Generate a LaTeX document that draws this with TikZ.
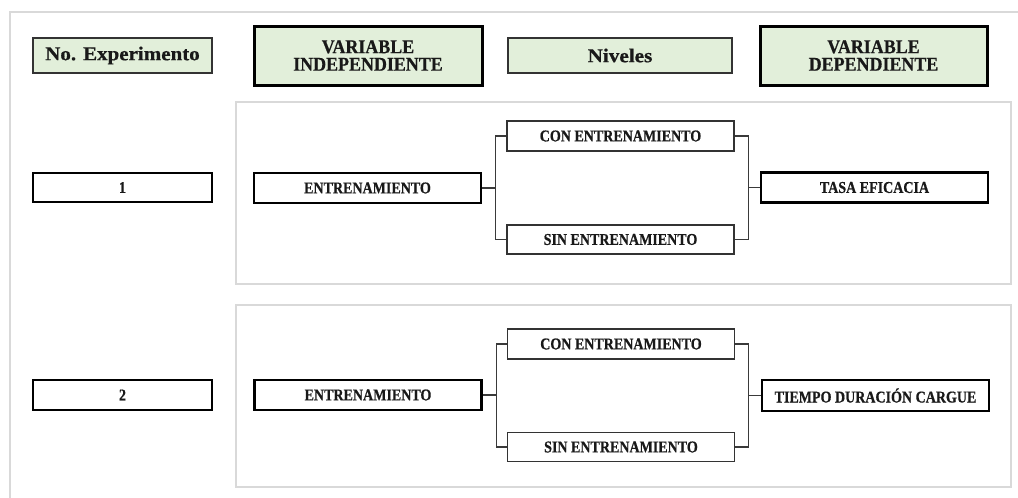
\documentclass[tikz,border=0pt]{standalone}
\usepackage{fontspec}
\usepackage{graphicx}
\setmainfont{Liberation Serif}
\newfontfamily\bodyfont[FakeStretch=0.85,FakeBold=0.6]{Liberation Serif}
\newfontfamily\headfont[FakeStretch=0.92,FakeBold=0.6]{Liberation Serif}
\definecolor{hdrgreen}{HTML}{E2EFDA}
\definecolor{panelgray}{HTML}{D9D9D9}
\definecolor{connc}{HTML}{3A3A3A}
\begin{document}
\begin{tikzpicture}[x=1pt,y=-1pt,
  box/.style={draw=black, rectangle, inner sep=0pt, font=\bodyfont\bfseries\fontsize{16.5}{18}\selectfont, text=black!90},
  thinbox/.style={box, line width=1.2pt, draw=black!80},
  thickbox/.style={box, line width=2.5pt},
  hdr/.style={box, fill=hdrgreen, font=\headfont\bfseries\fontsize{19.5}{17.5}\selectfont, align=center},
  hdrthin/.style={hdr, line width=1.5pt, draw=black!80},
  hdrthick/.style={hdr, line width=3pt},
  panel/.style={draw=panelgray, line width=1.5pt},
  frame/.style={draw=panelgray, line width=1.2pt},
  conn/.style={draw=connc, line width=1.2pt}
]
\useasboundingbox (0,0) rectangle (1018,498);
% outer frame lines
\draw[frame] (10,498) -- (10,12) -- (1018,12);
% headers
\node[hdrthin, minimum width=179pt, minimum height=35pt] (hexp) at (122.5,55.5) {\scalebox{1.17}[1]{No. Experimento}};
\node[hdrthick, minimum width=228pt, minimum height=59pt] (hind) at (368,55.5) {VARIABLE\\INDEPENDIENTE};
\node[hdrthin, minimum width=224pt, minimum height=35pt] (hniv) at (620,55.5) {\scalebox{1.18}[1]{Niveles}};
\node[hdrthick, minimum width=227pt, minimum height=59pt] (hdep) at (873.5,55.5) {VARIABLE\\DEPENDIENTE};
% panels
\draw[panel] (236,102) rectangle (1011,284);
\draw[panel] (236,305) rectangle (1011,487);
% experiment 1
\node[thickbox, minimum width=179pt, minimum height=29pt] (n1) at (122.5,187.5) {1};
\node[thickbox, minimum width=227pt, minimum height=30pt] (e1) at (367.5,188) {ENTRENAMIENTO};
\node[thinbox, minimum width=227pt, minimum height=30pt] (c1) at (620.5,136) {CON ENTRENAMIENTO};
\node[thinbox, minimum width=227pt, minimum height=29pt] (s1) at (620.5,239.5) {SIN ENTRENAMIENTO};
\node[thickbox, minimum width=227pt, minimum height=30pt] (t1) at (874.5,187.5) {TASA EFICACIA};
\draw[conn] (e1.east) -- ++(13,0) |- (c1.west);
\draw[conn] (e1.east) -- ++(13,0) |- (s1.west);
\draw[conn] (c1.east) -- ++(14,0) |- (t1.west);
\draw[conn] (s1.east) -- ++(14,0) |- (t1.west);
% experiment 2
\node[thickbox, minimum width=179pt, minimum height=30pt] (n2) at (122.5,395) {2};
\node[thickbox, minimum width=227pt, minimum height=30pt] (e2) at (368,395) {ENTRENAMIENTO};
\node[thinbox, minimum width=227pt, minimum height=30pt] (c2) at (621,344) {CON ENTRENAMIENTO};
\node[thinbox, minimum width=227pt, minimum height=29pt] (s2) at (621,447) {SIN ENTRENAMIENTO};
\node[thickbox, minimum width=227pt, minimum height=31pt] (t2) at (875.5,395.5) {TIEMPO DURACIÓN CARGUE};
\draw[conn] (e2.east) -- ++(14,0) |- (c2.west);
\draw[conn] (e2.east) -- ++(14,0) |- (s2.west);
\draw[conn] (c2.east) -- ++(13,0) |- (t2.west);
\draw[conn] (s2.east) -- ++(13,0) |- (t2.west);
\end{tikzpicture}
\end{document}
